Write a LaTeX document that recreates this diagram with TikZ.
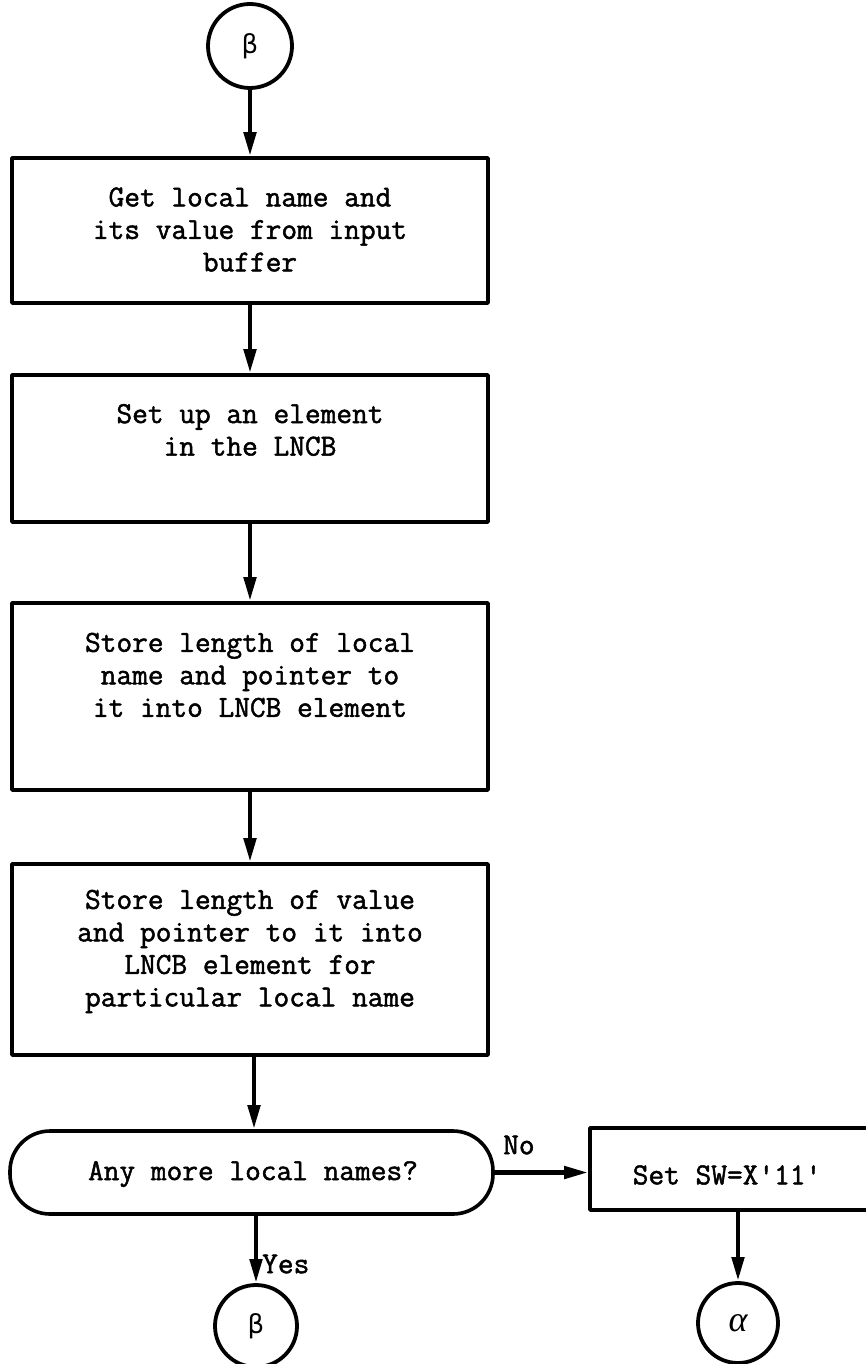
\documentclass[tikz,border=0pt]{standalone}
\usepackage{fontspec}
\setmonofont{Latin Modern Mono}[FakeBold=1.6]
\newfontfamily\greekfont{DejaVu Sans}
\newfontfamily\greekitfont{Liberation Serif}
\usetikzlibrary{arrows.meta}
\begin{document}
\begin{tikzpicture}[x=1pt,y=-1pt,
  line join=round,
  procbox/.style={draw, line width=3.6pt, minimum width=476pt, inner sep=0pt},
  boxtext/.style={font=\ttfamily\fontsize{30.5}{32.5}\selectfont, align=center, inner sep=0pt},
  connector/.style={draw, circle, line width=3.8pt, inner sep=0pt},
  flow/.style={line width=4.6pt, -{Triangle[length=24pt,width=12pt]}},
  lbl/.style={font=\ttfamily\fontsize{30.5}{32}\selectfont, inner sep=0pt}]
\useasboundingbox (0,0) rectangle (865,1364);

% entry connector
\node[connector, minimum size=84pt] (top) at (250,46) {\greekfont\fontsize{26}{26}\selectfont β};

% processing boxes
\node[procbox, minimum height=145pt] (b1) at (250,230.5) {};
\node[boxtext] (t1) at (250,229.5) {Get local name and\\its value from input\\buffer};

\node[procbox, minimum height=147pt] (b2) at (250,448.5) {};
\node[boxtext] (t2) at (250,430) {Set up an element\\in the LNCB};

\node[procbox, minimum height=187pt] (b3) at (250,696.5) {};
\node[boxtext] (t3) at (250,675) {Store length of local\\name and pointer to\\it into LNCB element};

\node[procbox, minimum height=191pt] (b4) at (250,959.5) {};
\node[boxtext] (t4) at (250,951.5) {Store length of value\\and pointer to it into\\LNCB element for\\particular local name};

% decision
\node[draw, line width=3.6pt, rounded corners=40pt, minimum width=483pt, minimum height=83pt, inner sep=0pt] (d) at (251.5,1172.5) {};
\node[boxtext] (td) at (253,1174) {Any more local names?};

% switch setting box, running off the right edge
\node[draw, line width=3.6pt, minimum width=278pt, minimum height=82pt, inner sep=0pt] (b5) at (729,1169) {};
\node[boxtext] (t5) at (727,1175) {Set SW=X'11'};

% exit connectors
\node[connector, minimum size=82pt] (bot) at (256,1326) {\greekfont\fontsize{26}{26}\selectfont β};
\node[connector, minimum size=80pt] (alpha) at (738,1323) {\greekitfont\itshape\fontsize{36}{36}\selectfont α};

% flow lines
\draw[flow] (top.south) -- (b1.north);
\draw[flow] (b1.south) -- (b2.north);
\draw[flow] (b2.south) -- (b3.north);
\draw[flow] (b3.south) -- (b4.north);
\draw[flow] ([xshift=4pt]b4.south) -- ([xshift=4pt]b4.south |- d.north);
\draw[flow] (d.east) -- (d.east -| b5.west);
\draw[flow] (bot.north |- d.south) -- (bot.north);
\draw[flow] (alpha.north |- b5.south) -- (alpha.north);

% branch labels
\node[lbl, anchor=west] (no) at (503,1145) {No};
\node[lbl, anchor=west] (yes) at (262,1264) {Yes};
\end{tikzpicture}
\end{document}
